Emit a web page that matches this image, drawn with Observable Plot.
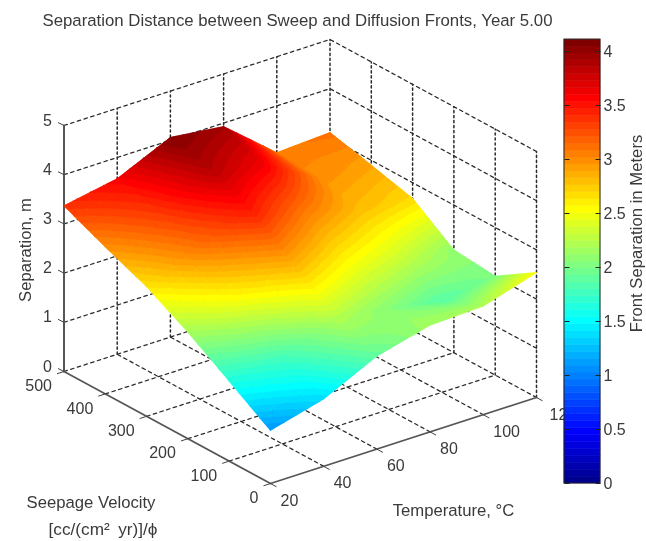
<!DOCTYPE html>
<html>
<head>
<meta charset="utf-8">
<style>
html,body{margin:0;padding:0;background:#fff}
svg{display:block;filter:blur(0.55px)}
</style>
<script src="https://cdn.jsdelivr.net/npm/d3@7"></script>
<script src="https://cdn.jsdelivr.net/npm/@observablehq/plot@0.6"></script>
</head>
<body>
<div id="chart"></div>
<script>
const titleText = "Separation Distance between Sweep and Diffusion Fronts, Year 5.00";
const temperatures = [20, 40, 60, 80, 100, 120];
const velocities = [500, 400, 300, 200, 100, 0];
const zTicks = [0, 1, 2, 3, 4, 5];
const barTicks = [0, 0.5, 1, 1.5, 2, 2.5, 3, 3.5, 4];
const colorMax = 4.11;

// Separation (m), one list per seepage velocity, in the order of `temperatures`
const sepV500 = [3.37, 3.57, 4.06, 3.93, 3.05, 3.11];
const sepV400 = [2.99, 3.35, 3.85, 3.60, 3.00, 2.90];
const sepV300 = [2.64, 3.10, 3.45, 3.05, 2.80, 2.68];
const sepV200 = [2.17, 2.55, 2.85, 2.55, 2.35, 2.09];
const sepV100 = [1.63, 1.80, 2.25, 2.05, 1.85, 2.01];
const sepV000 = [1.08, 1.37, 1.89, 2.17, 2.21, 2.54];
const separation = [sepV500, sepV400, sepV300, sepV200, sepV100, sepV000];

// View of the 3-D box (orthographic, as the original surface plot)
const proj = (T, V, Z = 0) => ({
  x: 270 + (T - 20) * 2.66 - V * 0.413,
  y: 483 - (T - 20) * 0.86 - V * 0.224 - Z * 49.2
});
const barY = v => 483 - v * 108;

// MATLAB jet, 64 levels
function jet(n) {
  const c = t => Math.round(255 * Math.max(0, Math.min(1, t)));
  return d3.range(n).map(i => {
    const t = (i + 1) / n * 4;
    const r = Math.min(t - 1.5, 4.5 - t), g = Math.min(t - 0.5, 3.5 - t), b = Math.min(t + 0.5, 2.5 - t);
    return `rgb(${c(r)},${c(g)},${c(b)})`;
  });
}
const levels = 64;
const colorRange = jet(levels);
const colorThresholds = d3.range(1, levels).map(i => i / levels * colorMax);

// Clip a facet to one colour band (keeps the 64-level contour bands of the original)
function clipAbove(poly, lim, sign) {
  const out = [];
  poly.forEach((a, i) => {
    const b = poly[(i + 1) % poly.length];
    const da = sign * (a.z - lim), db = sign * (b.z - lim);
    if (da >= 0) out.push(a);
    if ((da >= 0) !== (db >= 0)) {
      const t = da / (da - db);
      out.push({T: a.T + (b.T - a.T) * t, V: a.V + (b.V - a.V) * t, z: lim});
    }
  });
  return out;
}

// Shading of each grid cell, far corner first
const sub = 4;
const facets = [];
let id = 0;
for (let r = 0; r < velocities.length - 1; r++) {
  for (let c = temperatures.length - 2; c >= 0; c--) {
    const node = (u, w) => ({
      T: temperatures[c] + (temperatures[c + 1] - temperatures[c]) * u,
      V: velocities[r] + (velocities[r + 1] - velocities[r]) * w,
      z: (1 - u) * (1 - w) * separation[r][c] + u * (1 - w) * separation[r][c + 1] +
         (1 - u) * w * separation[r + 1][c] + u * w * separation[r + 1][c + 1]
    });
    for (let j = 0; j < sub; j++) {
      for (let i = sub - 1; i >= 0; i--) {
        const a = node(i / sub, j / sub), b = node((i + 1) / sub, j / sub);
        const d = node((i + 1) / sub, (j + 1) / sub), e = node(i / sub, (j + 1) / sub);
        for (const tri of [[a, b, e], [b, d, e]]) {
          // underlay in the facet's mean colour, so that no pinholes remain between bands
          const mean = d3.mean(tri, p => p.z);
          for (const p of tri) facets.push({id, v: mean, ...proj(p.T, p.V, p.z)});
          id++;
          for (let k = 0; k < levels; k++) {
            let poly = clipAbove(tri, k / levels * colorMax, 1);
            if (poly.length) poly = clipAbove(poly, (k + 1) / levels * colorMax, -1);
            if (poly.length < 3) continue;
            const v = (k + 0.5) / levels * colorMax;
            for (const p of poly) facets.push({id, v, ...proj(p.T, p.V, p.z)});
            id++;
          }
        }
      }
    }
  }
}

// Dashed box grid
const gridH = [], gridV = [];
let g = 0;
for (const T of temperatures.slice(1)) {
  gridH.push({g, ...proj(T, 0)}, {g, ...proj(T, 500)}); g++;
  gridV.push({g, ...proj(T, 500)}, {g, ...proj(T, 500, 5)}); g++;
}
for (const V of velocities.slice(0, -1)) {
  gridH.push({g, ...proj(20, V)}, {g, ...proj(120, V)}); g++;
}
for (const V of velocities.slice(1)) {
  gridV.push({g, ...proj(120, V)}, {g, ...proj(120, V, 5)}); g++;
}
for (const Z of zTicks.slice(1)) {
  gridH.push({g, ...proj(20, 500, Z)}, {g, ...proj(120, 500, Z)}, {g, ...proj(120, 0, Z)}); g++;
}

// Axis lines and ticks
const axisLines = [
  {g: 0, w: 2, ...proj(20, 500)}, {g: 0, w: 2, ...proj(20, 500, 5)},
  {g: 1, w: 1.6, ...proj(20, 500)}, {g: 1, w: 1.6, ...proj(20, 0)},
  {g: 2, w: 1.6, ...proj(20, 0)}, {g: 2, w: 1.6, ...proj(120, 0)}
];
const tickSegs = [
  ...zTicks.map(Z => { const p = proj(20, 500, Z); return {x1: p.x, y1: p.y, x2: p.x - 6, y2: p.y - 3}; }),
  ...velocities.map(V => { const p = proj(20, V); return {x1: p.x, y1: p.y, x2: p.x - 7, y2: p.y + 2.3}; }),
  ...temperatures.map(T => { const p = proj(T, 0); return {x1: p.x, y1: p.y, x2: p.x + 6, y2: p.y + 3.3}; })
];

const font = "'Liberation Sans', Arial, sans-serif";
const ink = "#3a3a3a";
const tickSize = 16;
const labelSize = 16.7;

const barBands = d3.range(levels).map(i => ({
  v: (i + 0.5) / levels * colorMax,
  y1: barY(i / levels * colorMax),
  y2: barY((i + 1) / levels * colorMax)
}));

const chart = Plot.plot({
  width: 646,
  height: 541,
  margin: 0,
  style: {background: "#fff", fontFamily: font},
  x: {type: "identity", axis: null},
  y: {type: "identity", axis: null},
  color: {type: "threshold", domain: colorThresholds, range: colorRange},
  marks: [
    Plot.line(gridH, {x: "x", y: "y", z: "g", stroke: "#2a2a2a", strokeWidth: 1.25, strokeDasharray: "3.5,3.5"}),
    Plot.line(gridV, {x: "x", y: "y", z: "g", stroke: "#2a2a2a", strokeWidth: 1.5, strokeDasharray: "2.2,2.8"}),
    Plot.line(axisLines, {x: "x", y: "y", z: "g", stroke: "#555", strokeWidth: "w"}),
    Plot.link(tickSegs, {x1: "x1", y1: "y1", x2: "x2", y2: "y2", stroke: "#444", strokeWidth: 1}),
    Plot.line(facets, {x: "x", y: "y", z: "id", fill: "v", stroke: "v", strokeWidth: 0.5, curve: "linear-closed"}),

    Plot.text(zTicks, {x: d => proj(20, 500, d).x, y: d => proj(20, 500, d).y, dx: -12, dy: -5, text: d => String(d), textAnchor: "end", fontSize: tickSize, fill: ink}),
    Plot.text(velocities, {x: d => proj(20, d).x, y: d => proj(20, d).y, dx: -12, dy: 14.5, text: d => String(d), textAnchor: "end", fontSize: tickSize, fill: ink}),
    Plot.text(temperatures, {x: d => proj(d, 0).x + (d === 120 ? 3 : 0), y: d => proj(d, 0).y, dx: 10, dy: 17, text: d => String(d), textAnchor: "start", fontSize: tickSize, fill: ink}),

    Plot.rect(barBands, {x1: () => 564, x2: () => 600, y1: "y1", y2: "y2", fill: "v", stroke: "v", strokeWidth: 0.5}),
    Plot.rect([0], {x1: () => 564, x2: () => 600, y1: () => barY(0), y2: () => barY(colorMax), fill: "none", stroke: "#222", strokeWidth: 1}),
    Plot.link(barTicks, {x1: () => 564, x2: () => 569, y1: barY, y2: barY, stroke: "#222", strokeWidth: 1}),
    Plot.link(barTicks, {x1: () => 595, x2: () => 600, y1: barY, y2: barY, stroke: "#222", strokeWidth: 1}),
    Plot.text(barTicks, {x: () => 603, y: barY, text: d => String(d), textAnchor: "start", fontSize: tickSize, fill: ink}),

    Plot.text([titleText], {frameAnchor: "top-left", dx: 42, dy: 14, text: d => d, textAnchor: "start", fontSize: 16.8, fill: ink}),
    Plot.text(["Separation, m"], {frameAnchor: "top-left", dx: 18.5, dy: 249.5, text: d => d, rotate: -90, textAnchor: "middle", fontSize: labelSize, fill: ink}),
    Plot.text(["Front Separation in Meters"], {frameAnchor: "top-left", dx: 630, dy: 233, text: d => d, rotate: -90, textAnchor: "middle", fontSize: labelSize, fill: ink}),
    Plot.text(["Temperature, °C"], {frameAnchor: "top-left", dx: 453, dy: 504, text: d => d, textAnchor: "middle", fontSize: labelSize, fill: ink}),
    Plot.text(["Seepage Velocity"], {frameAnchor: "top-left", dx: 26, dy: 496, text: d => d, textAnchor: "start", fontSize: labelSize, fill: ink}),
    Plot.text(["[cc/(cm²\u2002yr)]/ϕ"], {frameAnchor: "top-left", dx: 157, dy: 522, text: d => d, textAnchor: "end", fontSize: 17.2, fill: ink})
  ]
});
document.getElementById("chart").append(chart);
</script>
</body>
</html>
